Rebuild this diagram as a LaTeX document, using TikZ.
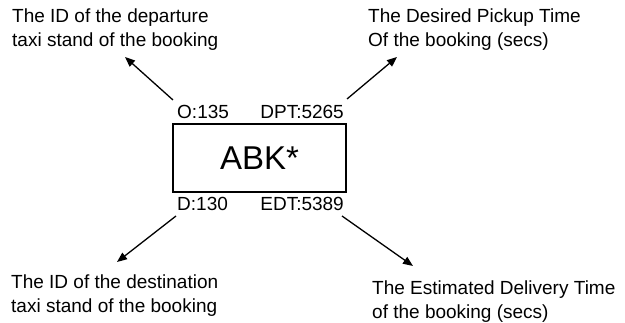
\documentclass[tikz,border=0pt]{standalone}
\usepackage{fontspec}
\setmainfont{Liberation Sans}
\usetikzlibrary{arrows.meta}
\begin{document}
\begin{tikzpicture}[x=1pt,y=-1pt,
  desc/.style={anchor=north west,inner sep=0pt,align=left,font=\fontsize{19}{24}\selectfont},
  lbl/.style={inner sep=0pt,font=\fontsize{19}{24}\selectfont},
  conn/.style={line width=1.3pt,-{Triangle[length=10pt,width=8pt]}}]
\useasboundingbox (0,0) rectangle (625,323);
\node[draw,line width=1.5pt,minimum width=173pt,minimum height=68pt,inner sep=0pt,font=\fontsize{33}{36}\selectfont] (box) at (259.5,158) {ABK*};
\node[lbl,anchor=base west] (o) at (177,119) {O:135};
\node[lbl,anchor=base east] (dpt) at (344,119) {DPT:5265};
\node[lbl,anchor=base west] (d) at (177,211) {D:130};
\node[lbl,anchor=base east] (edt) at (344,211) {EDT:5389};
\node[desc] (tl) at (12,9) {The ID of the departure\\taxi stand of the booking};
\node[desc] (tr) at (368,9) {The Desired Pickup Time\\Of the booking (secs)};
\node[desc] (bl) at (11,275) {The ID of the destination\\taxi stand of the booking};
\node[desc] (br) at (372,281) {The Estimated Delivery Time\\of the booking (secs)};
\coordinate (a1) at (173,100); \coordinate (t1) at (125,57);
\coordinate (a2) at (347,99); \coordinate (t2) at (397,57);
\coordinate (a3) at (176,216); \coordinate (t3) at (117,262);
\coordinate (a4) at (342,216); \coordinate (t4) at (413,266);
\draw[conn] (a1) -- (t1);
\draw[conn] (a2) -- (t2);
\draw[conn] (a3) -- (t3);
\draw[conn] (a4) -- (t4);
\end{tikzpicture}
\end{document}
